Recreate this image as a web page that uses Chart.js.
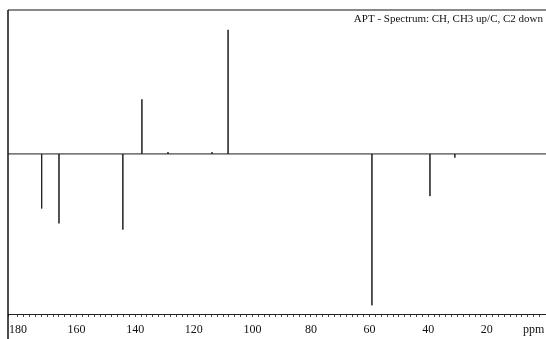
<!DOCTYPE html>
<html>
<head>
<meta charset="utf-8">
<script src="https://cdn.jsdelivr.net/npm/chart.js@4/dist/chart.umd.min.js"></script>
<style>
  html, body { margin: 0; padding: 0; background: #fff; }
</style>
</head>
<body>
<canvas id="spectrum" width="546" height="339"></canvas>
<script>
// peak positions (ppm) and signed intensities
const peakShifts = [171.9, 166.0, 144.2, 137.7, 128.8, 113.8, 108.3, 59.2, 39.4, 30.9];
const peakHeights = [-44, -56, -61, 44, 1.5, 1.5, 100, -122, -34, -3];
const tickLabels = [180, 160, 140, 120, 100, 80, 60, 40, 20];
const unitLabel = 'ppm';
const titleText = 'APT - Spectrum: CH, CH3 up/C, C2 down';
const ppmRange = [-0.2, 183.4];
const intensityRange = [-129, 116];

// baseline with a stick for every peak
const points = [{ x: ppmRange[1], y: 0 }];
peakShifts.forEach((p, i) => {
  points.push({ x: p, y: 0 }, { x: p, y: peakHeights[i] }, { x: p, y: 0 });
});
points.push({ x: ppmRange[0], y: 0 });

const framePlugin = {
  id: 'frame',
  afterDraw(chart) {
    const { ctx, chartArea } = chart;
    ctx.save();
    ctx.strokeStyle = '#888';
    ctx.lineWidth = 2;
    ctx.beginPath();
    ctx.moveTo(chartArea.left, chartArea.top);
    ctx.lineTo(chart.width, chartArea.top);
    ctx.stroke();
    ctx.strokeStyle = '#111';
    ctx.lineWidth = 1.5;
    ctx.beginPath();
    ctx.moveTo(chartArea.left, chartArea.top);
    ctx.lineTo(chartArea.left, chart.height);
    ctx.stroke();
    ctx.fillStyle = '#111';
    ctx.font = '11px "Liberation Serif"';
    ctx.textAlign = 'right';
    ctx.textBaseline = 'middle';
    ctx.fillText(titleText, chart.width - 3, chartArea.top + 9);
    ctx.restore();
  }
};

new Chart(document.getElementById('spectrum'), {
  type: 'scatter',
  data: {
    datasets: [{
      data: points,
      showLine: true,
      borderColor: '#1c1c1c',
      borderWidth: 1,
      pointRadius: 0,
      tension: 0
    }]
  },
  options: {
    responsive: false,
    animation: false,
    devicePixelRatio: 1,
    layout: { padding: { left: 8, top: 10, right: 0, bottom: 0 } },
    plugins: { legend: { display: false }, tooltip: { enabled: false } },
    scales: {
      x: {
        type: 'linear',
        reverse: true,
        min: ppmRange[0],
        max: ppmRange[1],
        border: { display: true, color: '#222', width: 1 },
        grid: { drawOnChartArea: false, drawTicks: true, tickLength: 3, color: '#444' },
        ticks: {
          stepSize: 2,
          autoSkip: false,
          maxRotation: 0,
          padding: 6,
          color: '#111',
          font: { family: 'Liberation Serif', size: 12 },
          callback: (v) => {
            if (tickLabels.includes(v)) return String(v);
            if (v === 4) return unitLabel;
            return '';
          }
        },
        afterFit: (scale) => {
          scale.height = 25;
          scale.paddingLeft = 0;
          scale.paddingRight = 0;
        }
      },
      y: {
        display: false,
        min: intensityRange[0],
        max: intensityRange[1]
      }
    }
  },
  plugins: [framePlugin]
});
</script>
</body>
</html>
